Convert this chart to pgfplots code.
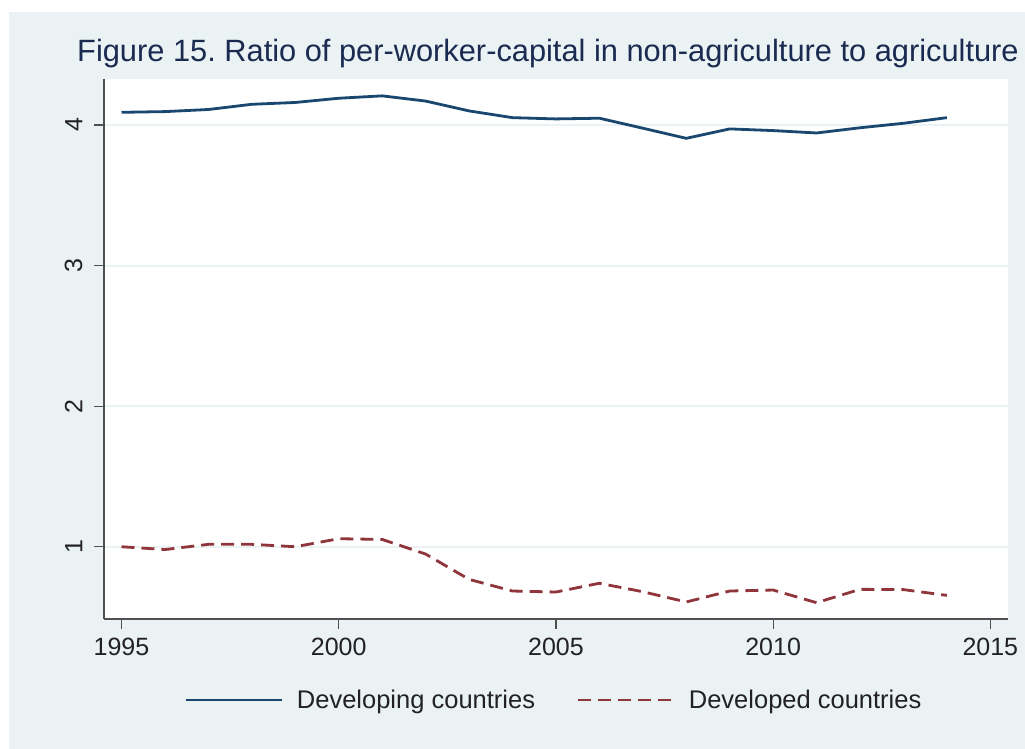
\documentclass[border=0pt]{standalone}
\usepackage{pgfplots}
\pgfplotsset{compat=1.18}
\usepackage{fontspec}
\setmainfont{Liberation Sans}
\frenchspacing
\definecolor{bgc}{RGB}{234,242,243}
\definecolor{navyc}{RGB}{26,71,111}
\definecolor{maroonc}{RGB}{144,53,59}
\definecolor{titlec}{RGB}{26,42,80}
\definecolor{axc}{RGB}{80,80,80}
\definecolor{txtc}{RGB}{34,34,34}
\begin{document}
\begin{tikzpicture}[x=1pt,y=1pt]
\useasboundingbox (0,0) rectangle (1025,749);
\fill[white] (0,0) rectangle (1025,749);
\fill[bgc] (9,0) rectangle (1025,737);
\node[anchor=base west, inner sep=0pt, text=titlec, font=\fontsize{30.8}{37}\selectfont] at (77,687) {Figure 15. Ratio of per-worker-capital in non-agriculture to agriculture};
\begin{axis}[
  at={(104pt,130pt)}, anchor=south west,
  scale only axis, width=903.7pt, height=540pt,
  xmin=1994.597, xmax=2015.40,
  ymin=0.486, ymax=4.327,
  axis background/.style={fill=white},
  axis x line*=bottom, axis y line*=left,
  axis line style={axc, line width=1.4pt, -},
  xtick={1995,2000,2005,2010,2015},
  ytick={1,2,3,4},
  tick align=outside,
  major tick length=10pt,
  tick style={axc, line width=1.2pt},
  ymajorgrids,
  major grid style={bgc, line width=2pt},
  /pgf/number format/assume math mode=true,
  /pgf/number format/1000 sep={},
  xticklabel style={font=\fontsize{25}{30}\selectfont, text=txtc, yshift=-6pt},
  yticklabel style={font=\fontsize{25}{30}\selectfont, text=txtc, rotate=90, anchor=south, yshift=8pt},
  legend style={at={(0.4977,-0.15)}, anchor=center, draw=none, fill=none,
    font=\fontsize{25.5}{30}\selectfont, text=txtc,
    /tikz/every odd column/.append style={column sep=12pt},
    /tikz/every even column/.append style={column sep=39pt}},
  legend columns=2,
  legend image code/.code={\draw[#1] (0pt,0pt) -- (96pt,0pt);},
  legend cell align=left,
]
\addplot[navyc, line width=2.8pt] coordinates {
(1995,4.090) (1996,4.095) (1997,4.110) (1998,4.147) (1999,4.160)
(2000,4.190) (2001,4.207) (2002,4.170) (2003,4.100) (2004,4.052)
(2005,4.043) (2006,4.048) (2007,3.977) (2008,3.905) (2009,3.972)
(2010,3.960) (2011,3.943) (2012,3.980) (2013,4.012) (2014,4.052)};
\addlegendentry{Developing countries}
\addplot[maroonc, line width=2.8pt, dash pattern=on 13pt off 7pt] coordinates {
(1995,1.000) (1996,0.980) (1997,1.017) (1998,1.017) (1999,1.000)
(2000,1.057) (2001,1.052) (2002,0.948) (2003,0.768) (2004,0.685)
(2005,0.678) (2006,0.740) (2007,0.680) (2008,0.607) (2009,0.685)
(2010,0.692) (2011,0.602) (2012,0.697) (2013,0.695) (2014,0.654)};
\addlegendentry{Developed countries}
\end{axis}
\end{tikzpicture}
\end{document}
